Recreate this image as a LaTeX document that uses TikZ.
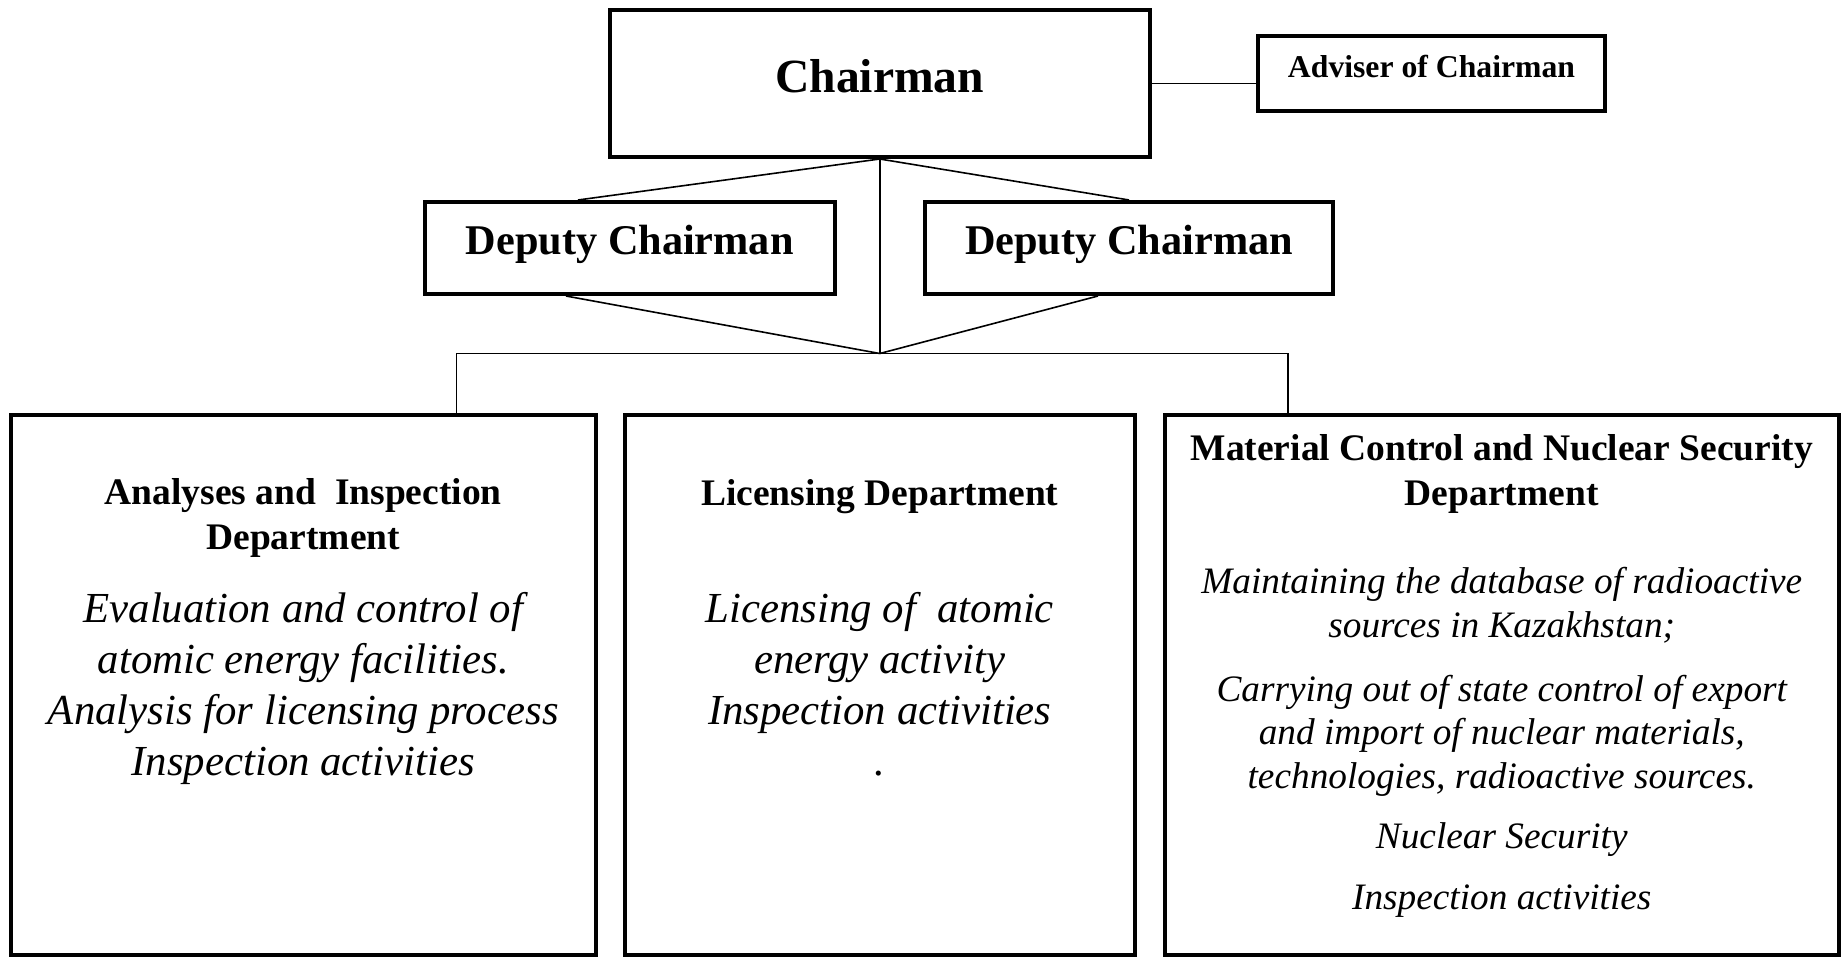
\documentclass[tikz,border=0pt]{standalone}
\usepackage{fontspec}
\setmainfont{Liberation Serif}
\usepackage{tikz}
\usetikzlibrary{positioning}

\newcommand{\chairfont}{\bfseries\fontsize{23.8pt}{28pt}\selectfont}
\newcommand{\depfont}{\bfseries\fontsize{21.15pt}{25pt}\selectfont}
\newcommand{\advfont}{\bfseries\fontsize{15.85pt}{19pt}\selectfont}
\newcommand{\titlefont}{\bfseries\fontsize{18.75pt}{22.4pt}\selectfont}
\newcommand{\bodyfont}{\itshape\fontsize{21.4pt}{25.5pt}\selectfont}
\newcommand{\smallbody}{\itshape\fontsize{18.65pt}{21.7pt}\selectfont}

\tikzset{
    box/.style={draw, line width=2pt, inner sep=0pt},
    lbl/.style={anchor=base, inner sep=0pt, align=center},
    link/.style={line width=0.8pt}
}

\begin{document}
\begin{tikzpicture}[x=0.5pt,y=-0.5pt]
    \useasboundingbox (0,0) rectangle (1843,958);
    % boxes
    \node[box, minimum width=269.75pt, minimum height=73.5pt] (chair) at (879.75,83.5) {};
    \node[box, minimum width=173.5pt, minimum height=37.5pt] (adv) at (1431.5,73.5) {};
    \node[box, minimum width=204.75pt, minimum height=46pt] (dep1) at (629.75,248) {};
    \node[box, minimum width=204pt, minimum height=46pt] (dep2) at (1129,248) {};
    \node[box, minimum width=292.75pt, minimum height=270pt] (ana) at (303.25,685) {};
    \node[box, minimum width=254.75pt, minimum height=270pt] (lic) at (879.75,685) {};
    \node[box, minimum width=337.25pt, minimum height=270pt] (mat) at (1501.75,685) {};

    % texts (base = baseline of the last line)
    \node[lbl, font=\chairfont] (chairtxt) at (879.75,92) {Chairman};
    \node[lbl, font=\advfont] (advtxt) at (1431.5,77) {Adviser of Chairman};
    \node[lbl, font=\depfont] (dep1txt) at (629.75,254) {Deputy Chairman};
    \node[lbl, font=\depfont] (dep2txt) at (1129,254) {Deputy Chairman};

    \node[lbl, font=\titlefont] (anatitle) at (303.25,549.5) {Analyses and \ Inspection\\Department};
    \node[lbl, font=\bodyfont] (anabody) at (303.25,775) {Evaluation and control of\\atomic energy facilities.\\Analysis for licensing process\\Inspection activities};

    \node[lbl, font=\titlefont] (lictitle) at (879.75,505) {Licensing Department};
    \node[lbl, font=\bodyfont] (licbody) at (879.75,775) {Licensing of \ atomic\\energy activity\\Inspection activities\\.};

    \node[lbl, font=\titlefont] (mattitle) at (1501.75,505) {Material Control and Nuclear Security\\Department};
    \node[lbl, font=\smallbody] (matdb) at (1501.75,637) {Maintaining the database of radioactive\\sources in Kazakhstan;};
    \node[lbl, font=\smallbody] (matexp) at (1501.75,788) {Carrying out of state control of export\\and import of nuclear materials,\\technologies, radioactive sources.};
    \node[lbl, font=\smallbody] (matsec) at (1501.75,848) {Nuclear Security};
    \node[lbl, font=\smallbody] (matins) at (1501.75,909) {Inspection activities};

    % connectors
    \coordinate (hub) at (879.75,353.5);
    \coordinate (lft) at (456.5,353.5);
    \coordinate (rgt) at (1288,353.5);
    \draw[link] (chair.east) -- (chair.east -| adv.west);
    \draw[link] (chair.south) -- ([xshift=-25.9pt]dep1.north);
    \draw[link] (chair.south) -- (dep2.north);
    \draw[link] (chair.south) -- (hub);
    \draw[link] ([xshift=-31.9pt]dep1.south) -- (hub);
    \draw[link] ([xshift=-15.5pt]dep2.south) -- (hub);
    \draw[link] (lft |- ana.north) -- (lft) -- (rgt) -- (rgt |- mat.north);
\end{tikzpicture}
\end{document}
